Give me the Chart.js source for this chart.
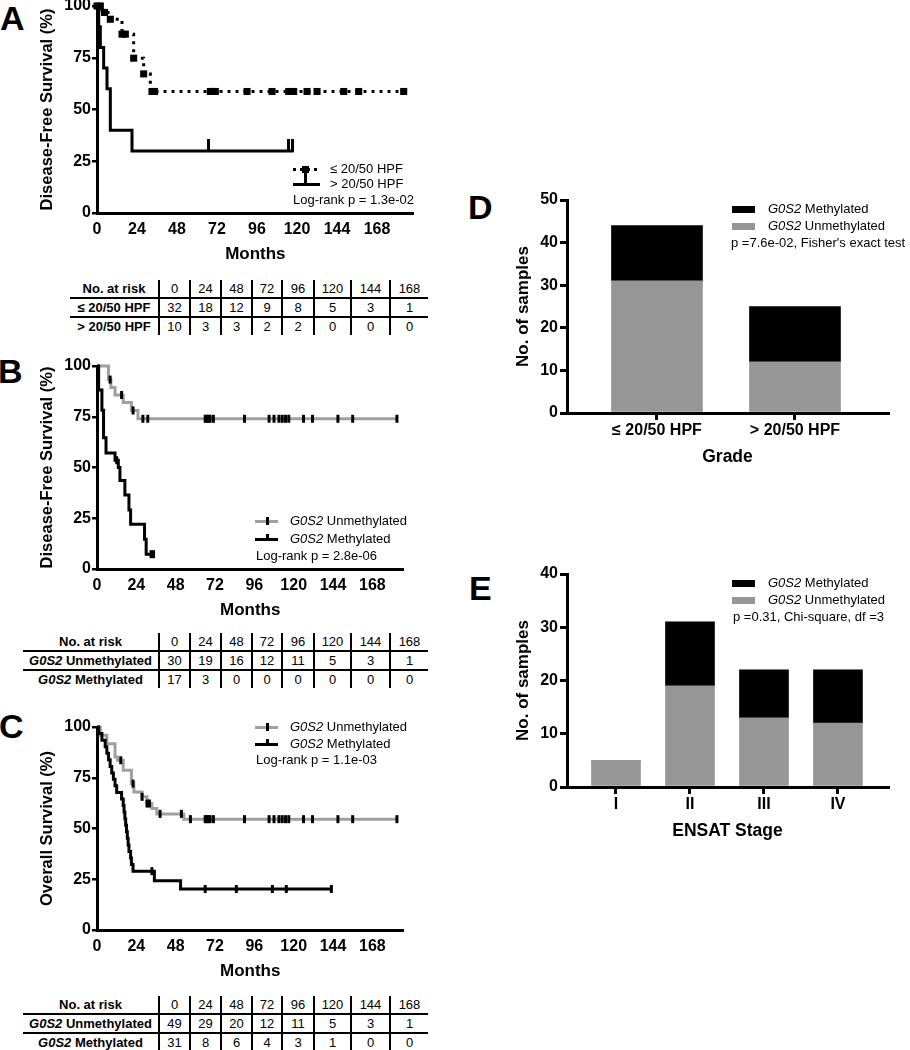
<!DOCTYPE html>
<html>
<head>
<meta charset="utf-8">
<script src="https://cdn.jsdelivr.net/npm/chart.js@4.4.0/dist/chart.umd.min.js"></script>
<style>
  body { margin: 0; background: #fff; }
  #page { position: relative; width: 910px; height: 1050px; overflow: hidden; font-family: "Liberation Sans", Arial, sans-serif; color: #000; }
  canvas { position: absolute; }
  .lbl { position: absolute; font-weight: bold; font-size: 34px; line-height: 34px; }
  .txt { position: absolute; font-size: 13px; line-height: 16px; white-space: nowrap; }
  .sw { position: absolute; background: #000; }
  .risk { position: absolute; border-collapse: collapse; table-layout: fixed; font-size: 13px; }
  .risk td { padding: 0; text-align: center; height: 17px; line-height: 17px; border-left: 2px solid #000; white-space: nowrap; }
  .risk td:first-child { border-left: none; font-weight: bold; }
  .risk tr.h td { border-bottom: 2px solid #000; }
</style>
</head>
<body>
<div id="page">
  <div class="lbl" style="left:0px;top:1px">A</div>
  <div class="lbl" style="left:-2px;top:354px">B</div>
  <div class="lbl" style="left:-1px;top:709px">C</div>
  <div class="lbl" style="left:468px;top:190px">D</div>
  <div class="lbl" style="left:469px;top:571px">E</div>

  <canvas id="kmA"></canvas>
  <canvas id="kmB"></canvas>
  <canvas id="kmC"></canvas>
  <canvas id="barD"></canvas>
  <canvas id="barE"></canvas>

  <!-- legend A -->
  <div class="sw" style="left:293px;top:167.5px;width:27px;height:3px;background:repeating-linear-gradient(90deg,#000 0 3px,transparent 3px 7px)"></div>
  <div class="sw" style="left:302px;top:165.5px;width:7px;height:7px"></div>
  <div class="txt" style="left:330px;top:161px">&le; 20/50 HPF</div>
  <div class="sw" style="left:293px;top:182.5px;width:27px;height:3px"></div>
  <div class="sw" style="left:304px;top:173px;width:3px;height:11px"></div>
  <div class="txt" style="left:330px;top:176px">&gt; 20/50 HPF</div>
  <div class="txt" style="left:293px;top:192px">Log-rank p = 1.3e-02</div>

  <!-- legend B -->
  <div class="sw" style="left:255px;top:519.5px;width:23px;height:3px;background:#a0a0a0"></div>
  <div class="sw" style="left:266px;top:517px;width:3px;height:8px"></div>
  <div class="txt" style="left:290px;top:513px"><i>G0S2</i> Unmethylated</div>
  <div class="sw" style="left:255px;top:537.5px;width:23px;height:3px"></div>
  <div class="sw" style="left:266px;top:534px;width:3px;height:5px"></div>
  <div class="txt" style="left:290px;top:531px"><i>G0S2</i> Methylated</div>
  <div class="txt" style="left:256px;top:548px">Log-rank p = 2.8e-06</div>

  <!-- legend C -->
  <div class="sw" style="left:255px;top:725.5px;width:23px;height:3px;background:#a0a0a0"></div>
  <div class="sw" style="left:266px;top:723px;width:3px;height:8px"></div>
  <div class="txt" style="left:290px;top:719px"><i>G0S2</i> Unmethylated</div>
  <div class="sw" style="left:255px;top:742.5px;width:23px;height:3px"></div>
  <div class="sw" style="left:266px;top:739px;width:3px;height:5px"></div>
  <div class="txt" style="left:290px;top:736px"><i>G0S2</i> Methylated</div>
  <div class="txt" style="left:256px;top:752px">Log-rank p = 1.1e-03</div>

  <!-- legend D -->
  <div class="sw" style="left:732px;top:205.5px;width:23px;height:7px"></div>
  <div class="txt" style="left:768px;top:201px"><i>G0S2</i> Methylated</div>
  <div class="sw" style="left:732px;top:222.5px;width:23px;height:7px;background:#969696"></div>
  <div class="txt" style="left:768px;top:218px"><i>G0S2</i> Unmethylated</div>
  <div class="txt" style="left:731px;top:235px">p =7.6e-02, Fisher's exact test</div>

  <!-- legend E -->
  <div class="sw" style="left:732px;top:579.5px;width:23px;height:7px"></div>
  <div class="txt" style="left:768px;top:575px"><i>G0S2</i> Methylated</div>
  <div class="sw" style="left:732px;top:596.5px;width:23px;height:7px;background:#969696"></div>
  <div class="txt" style="left:768px;top:592px"><i>G0S2</i> Unmethylated</div>
  <div class="txt" style="left:733px;top:609px">p =0.31, Chi-square, df =3</div>

  <table class="risk" id="riskA" style="left:70px;top:280px"></table>
  <table class="risk" id="riskB" style="left:23px;top:633px"></table>
  <table class="risk" id="riskC" style="left:23px;top:996px"></table>
</div>

<script>
// axis ticks
const xTicks = [0, 24, 48, 72, 96, 120, 144, 168];
const yTicksKM = [0, 25, 50, 75, 100];

// Panel A - disease-free survival by mitotic grade (months, %)
const aLowTimes = [0, 3, 8, 15, 22, 28, 32];
const aLowSurv = [100, 96.9, 93.6, 86.4, 74.8, 67.2, 58.7];
const aLowEnd = 184;
const aLowCensor = [0, 2, 4.5, 8, 15, 17, 22, 28, 33, 34.5, 68, 69.5, 71, 90, 105, 115, 118, 126, 132, 148, 157, 184];

const aHighTimes = [0, 1, 2, 4, 6, 8, 21];
const aHighSurv = [100, 90, 80, 70, 60, 40, 30];
const aHighEnd = 118;
const aHighCensor = [67, 115, 117.5];

// Panel B - disease-free survival by G0S2 methylation
const bUnTimes = [0, 7, 8.5, 11, 16, 21, 25];
const bUnSurv = [100, 93.3, 89.4, 85.7, 82.0, 78.1, 74.0];
const bUnEnd = 183;
const bUnCensor = [8, 15, 22, 28, 31, 66, 67, 68, 69, 71, 90, 105, 108, 111, 113, 115, 117, 126, 131.5, 147, 156, 183];

const bMeTimes = [0, 1, 3, 4, 5.5, 11, 13, 14, 17, 19.5, 20.5, 29, 30];
const bMeSurv = [100, 88.2, 78.2, 64.7, 57.1, 53.6, 50.0, 43.6, 36.4, 29.1, 22.0, 14.6, 7.3];
const bMeEnd = 34.5;
const bMeCensor = [12, 33, 34.5];

// Panel C - overall survival by G0S2 methylation
const cUnTimes = [0, 2, 6, 11, 12.5, 16, 21, 22.5, 27.5, 30.5, 33.5, 36.5, 53];
const cUnSurv = [100, 95.9, 91.8, 85.2, 83.6, 78.7, 72.1, 68.0, 65.6, 62.3, 59.8, 57.2, 54.6];
const cUnEnd = 183;
const cUnCensor = [14.5, 22, 27.5, 30.5, 32, 38.5, 51.5, 57, 66, 67, 68, 69, 71, 90, 105, 108, 111, 113, 115, 117, 126, 131.5, 147, 156, 183];

const cMeTimes = [0, 1, 3, 5, 6, 7, 8, 9, 10, 11, 12, 15, 16, 16.5, 17, 17.5, 18, 18.5, 19, 19.5, 20.5, 21, 22, 35, 51];
const cMeSurv = [100, 96.8, 93.5, 90.3, 87.1, 83.9, 80.6, 77.4, 74.2, 71.0, 67.7, 64.5, 61.3, 58.1, 54.8, 51.6, 48.4, 45.2, 41.9, 38.7, 35.5, 32.3, 29.0, 24.2, 20.2];
const cMeEnd = 143;
const cMeCensor = [33.5, 66, 85, 107, 115.5, 143];

// Numbers at risk
const riskTimes = [0, 24, 48, 72, 96, 120, 144, 168];
const riskALow = [32, 18, 12, 9, 8, 5, 3, 1];
const riskAHigh = [10, 3, 3, 2, 2, 0, 0, 0];
const riskBUn = [30, 19, 16, 12, 11, 5, 3, 1];
const riskBMe = [17, 3, 0, 0, 0, 0, 0, 0];
const riskCUn = [49, 29, 20, 12, 11, 5, 3, 1];
const riskCMe = [31, 8, 6, 4, 3, 1, 0, 0];

// Panel D - samples by grade
const grades = ['\u2264 20/50 HPF', '> 20/50 HPF'];
const gradeUnmeth = [31, 12];
const gradeMeth = [13, 13];
const yTicksD = [0, 10, 20, 30, 40, 50];

// Panel E - samples by ENSAT stage
const stages = ['I', 'II', 'III', 'IV'];
const stageUnmeth = [5, 19, 13, 12];
const stageMeth = [0, 12, 9, 10];
const yTicksE = [0, 10, 20, 30, 40];

const FONT = '"Liberation Sans", Arial, sans-serif';
Chart.defaults.font.family = FONT;
Chart.defaults.color = '#000';

const GRAY_LINE = '#a0a0a0';
const GRAY_BAR = '#969696';

function stepData(times, surv, end) {
    const pts = times.map((t, i) => ({ x: t, y: surv[i] }));
    pts.push({ x: end, y: surv[surv.length - 1] });
    return pts;
}

function survAt(times, surv, t) {
    let s = surv[0];
    for (let i = 0; i < times.length; i++) {
        if (times[i] <= t) s = surv[i];
    }
    return s;
}

function censorData(times, surv, cens) {
    return cens.map(t => ({ x: t, y: survAt(times, surv, t) }));
}

// censor tick pointing up only (panel A)
const upTick = document.createElement('canvas');
upTick.width = 3;
upTick.height = 24;
upTick.getContext('2d').fillRect(0, 0, 3, 13);

function lineSet(data, color, dash) {
    return {
        data: data, stepped: 'before', borderColor: color, borderWidth: 3,
        borderDash: dash || [], borderCapStyle: 'butt', pointRadius: 0, fill: false, clip: false
    };
}

function tickSet(data, style, radius, rotation, bw) {
    return {
        data: data, showLine: false, pointStyle: style, pointRadius: radius,
        pointRotation: rotation || 0, pointBackgroundColor: '#000', pointBorderColor: '#000',
        pointBorderWidth: bw === undefined ? 3 : bw, clip: false
    };
}

function kmChart(id, p) {
    const canvas = document.getElementById(id);
    const W = 440;
    const cTop = p.top - 12;
    const areaBottom = p.bottom - cTop;
    const scaleBottom = p.monthsY + 10.2 - cTop;
    const H = Math.ceil(scaleBottom + 3);
    const right = 97 + p.xMax * p.ppm;
    canvas.style.left = '0px';
    canvas.style.top = cTop + 'px';
    canvas.width = W;
    canvas.height = H;

    new Chart(canvas, {
        type: 'line',
        data: { datasets: p.datasets },
        options: {
            responsive: false,
            animation: false,
            events: [],
            layout: { padding: { left: 37.1, right: W - right, top: 12, bottom: H - scaleBottom } },
            plugins: { legend: { display: false }, tooltip: { enabled: false } },
            scales: {
                x: {
                    type: 'linear', min: 0, max: p.xMax,
                    afterBuildTicks: s => { s.ticks = xTicks.map(v => ({ value: v })); },
                    afterFit: s => { s.height = scaleBottom - areaBottom; },
                    grid: { display: false, drawTicks: false },
                    border: { display: true, color: '#000', width: 3 },
                    ticks: { font: { size: 16, weight: 'bold' }, padding: 7.4, maxRotation: 0, autoSkip: false },
                    title: { display: true, text: 'Months', font: { size: 17, weight: 'bold' }, padding: 0 }
                },
                y: {
                    min: 0, max: 100,
                    afterBuildTicks: s => { s.ticks = yTicksKM.map(v => ({ value: v })); },
                    afterFit: s => { s.width = 97 - 37.1; },
                    grid: { drawOnChartArea: false, drawTicks: true, tickLength: 5, color: '#000', lineWidth: 2.5 },
                    border: { display: true, color: '#000', width: 3 },
                    ticks: { font: { size: 16, weight: 'bold' }, padding: 1 },
                    title: { display: true, text: p.yTitle, font: { size: 16.5, weight: 'bold' }, padding: 0 }
                }
            }
        }
    });
}

function barChart(id, p) {
    const canvas = document.getElementById(id);
    const W = 450, H = 283;
    canvas.style.left = '460px';
    canvas.style.top = (p.top - 12) + 'px';
    canvas.width = W;
    canvas.height = H;

    new Chart(canvas, {
        type: 'bar',
        data: {
            datasets: [
                { data: p.unmeth.map((v, i) => ({ x: i + 1, y: v })), backgroundColor: GRAY_BAR, barThickness: p.barW, borderWidth: 0 },
                { data: p.meth.map((v, i) => ({ x: i + 1, y: v })), backgroundColor: '#000', barThickness: p.barW, borderWidth: 0 }
            ]
        },
        options: {
            responsive: false,
            animation: false,
            events: [],
            layout: { padding: { left: 52.8, right: 22, top: 12, bottom: 3.5 } },
            plugins: { legend: { display: false }, tooltip: { enabled: false } },
            scales: {
                x: {
                    type: 'linear', min: p.xMin, max: p.xMax, stacked: true, offset: false,
                    afterBuildTicks: s => { s.ticks = p.cats.map((c, i) => ({ value: i + 1 })); },
                    afterFit: s => { s.height = 54.5; },
                    grid: { display: true, offset: false, drawOnChartArea: false, drawTicks: true, tickLength: 7, color: '#000', lineWidth: 3 },
                    border: { display: true, color: '#000', width: 3 },
                    ticks: {
                        font: { size: 16, weight: 'bold' }, padding: 1.4, maxRotation: 0, autoSkip: false,
                        callback: v => p.cats[Math.round(v) - 1]
                    },
                    title: { display: true, text: p.xTitle, font: { size: 17.5, weight: 'bold' }, padding: 0 }
                },
                y: {
                    min: 0, max: p.yTicks[p.yTicks.length - 1], stacked: true,
                    afterBuildTicks: s => { s.ticks = p.yTicks.map(v => ({ value: v })); },
                    afterFit: s => { s.width = 107 - 52.8; },
                    grid: { drawOnChartArea: false, drawTicks: true, tickLength: 7, color: '#000', lineWidth: 3 },
                    border: { display: true, color: '#000', width: 3 },
                    ticks: { font: { size: 16, weight: 'bold' }, padding: 2 },
                    title: { display: true, text: 'No. of samples', font: { size: 17, weight: 'bold' }, padding: 0 }
                }
            }
        }
    });
}

function riskTable(id, labelW, rows) {
    const colW = [31, 31, 31, 30, 32, 37, 39, 38];
    const t = document.getElementById(id);
    let html = '<colgroup><col style="width:' + labelW + 'px">' + colW.map(w => '<col style="width:' + w + 'px">').join('') + '</colgroup>';
    html += '<tr class="h"><td>No. at risk</td>' + riskTimes.map(v => '<td>' + v + '</td>').join('') + '</tr>';
    rows.forEach((r, i) => {
        html += '<tr' + (i === 0 ? ' class="h"' : '') + '><td>' + r[0] + '</td>' + r[1].map(v => '<td>' + v + '</td>').join('') + '</tr>';
    });
    t.innerHTML = html;
    t.style.width = (labelW + colW.reduce((a, b) => a + b, 0)) + 'px';
}

document.addEventListener('DOMContentLoaded', function() {
    kmChart('kmA', {
        top: 6, bottom: 213, xMax: 190, ppm: 316.7 / 190, monthsY: 254,
        yTitle: 'Disease-Free Survival (%)',
        datasets: [
            tickSet(censorData(aHighTimes, aHighSurv, aHighCensor), upTick, 4),
            tickSet(censorData(aLowTimes, aLowSurv, aLowCensor), 'rect', 5, 0, 0),
            lineSet(stepData(aHighTimes, aHighSurv, aHighEnd), '#000'),
            lineSet(stepData(aLowTimes, aLowSurv, aLowEnd), '#000', [3, 5])
        ]
    });

    kmChart('kmB', {
        top: 366, bottom: 569, xMax: 187, ppm: 1.639, monthsY: 610,
        yTitle: 'Disease-Free Survival (%)',
        datasets: [
            tickSet(censorData(bUnTimes, bUnSurv, bUnCensor), 'line', 4, 90),
            tickSet(censorData(bMeTimes, bMeSurv, bMeCensor), 'line', 4, 90),
            lineSet(stepData(bMeTimes, bMeSurv, bMeEnd), '#000'),
            lineSet(stepData(bUnTimes, bUnSurv, bUnEnd), GRAY_LINE)
        ]
    });

    kmChart('kmC', {
        top: 727, bottom: 930, xMax: 187, ppm: 1.639, monthsY: 971,
        yTitle: 'Overall Survival (%)',
        datasets: [
            tickSet(censorData(cUnTimes, cUnSurv, cUnCensor), 'line', 4, 90),
            tickSet(censorData(cMeTimes, cMeSurv, cMeCensor), 'line', 4, 90),
            lineSet(stepData(cMeTimes, cMeSurv, cMeEnd), '#000'),
            lineSet(stepData(cUnTimes, cUnSurv, cUnEnd), GRAY_LINE)
        ]
    });

    barChart('barD', {
        top: 200, cats: grades, unmeth: gradeUnmeth, meth: gradeMeth, yTicks: yTicksD,
        xMin: 0.348, xMax: 2.674, barW: 91, xTitle: 'Grade'
    });

    barChart('barE', {
        top: 574, cats: stages, unmeth: stageUnmeth, meth: stageMeth, yTicks: yTicksE,
        xMin: 0.338, xMax: 4.676, barW: 49, xTitle: 'ENSAT Stage'
    });

    riskTable('riskA', 89, [['\u2264 20/50 HPF', riskALow], ['> 20/50 HPF', riskAHigh]]);
    riskTable('riskB', 136, [['<i>G0S2</i> Unmethylated', riskBUn], ['<i>G0S2</i> Methylated', riskBMe]]);
    riskTable('riskC', 136, [['<i>G0S2</i> Unmethylated', riskCUn], ['<i>G0S2</i> Methylated', riskCMe]]);
});
</script>
</body>
</html>
